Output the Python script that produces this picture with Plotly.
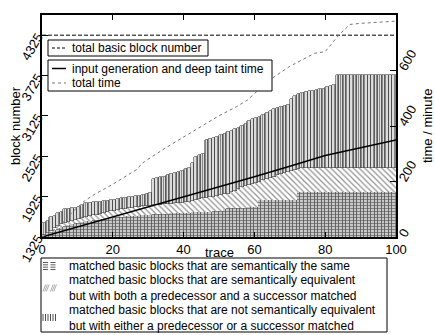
import plotly.graph_objects as go

# ---------------- data ----------------
trace = list(range(1, 101))

# cumulative top of "semantically the same" blocks
same_top = [1345, 1375, 1400, 1430, 1455, 1478, 1495, 1510, 1520, 1530,
            1540, 1550, 1560, 1568, 1577, 1585, 1592, 1598, 1604, 1610,
            1615, 1620, 1626, 1631, 1636, 1640, 1644, 1648, 1652, 1655,
            1658, 1661, 1664, 1667, 1670, 1672, 1675, 1678, 1680, 1683,
            1686, 1689, 1692, 1695, 1698, 1700, 1702, 1704, 1706, 1708,
            1710, 1745, 1750, 1754, 1756, 1758, 1760, 1762, 1764, 1766,
            1768, 1873, 1873, 1873, 1873, 1873, 1873, 1873, 1873, 1873,
            1873, 1873, 1990, 1990, 1990, 1990, 1990, 1990, 1990, 1990,
            1990, 1990, 1990, 1990, 1990, 1990, 1990, 1990, 1990, 1990,
            1990, 1990, 1990, 1990, 1990, 1990, 1990, 1990, 1990, 1990]

# cumulative top of "semantically equivalent, both pred & succ matched"
equiv_top = [1350, 1385, 1420, 1455, 1490, 1520, 1535, 1550, 1565, 1580,
             1593, 1606, 1619, 1632, 1645, 1658, 1670, 1682, 1694, 1706,
             1716, 1726, 1736, 1746, 1756, 1762, 1768, 1774, 1780, 1786,
             1791, 1796, 1801, 1806, 1811, 1816, 1821, 1826, 1831, 1836,
             1841, 1847, 1860, 1873, 1886, 1898, 1908, 1916, 1924, 1935,
             1945, 1958, 1970, 1990, 2010, 2035, 2062, 2090, 2105, 2120,
             2135, 2150, 2165, 2180, 2200, 2220, 2240, 2257, 2274, 2290,
             2304, 2318, 2332, 2345, 2350, 2350, 2350, 2350, 2350, 2350,
             2350, 2350, 2350, 2350, 2350, 2350, 2350, 2350, 2350, 2350,
             2350, 2350, 2350, 2350, 2350, 2350, 2350, 2350, 2350, 2350]

# cumulative top of "not equivalent, pred or succ matched" (= all matched)
total_top = [1537, 1560, 1625, 1640, 1680, 1700, 1740, 1745, 1750, 1760,
             1775, 1800, 1828, 1835, 1840, 1847, 1852, 1858, 1864, 1870,
             1880, 1890, 1898, 1905, 1915, 1922, 1930, 1940, 1950, 1962,
             1972, 2180, 2195, 2210, 2220, 2240, 2258, 2275, 2291, 2310,
             2330, 2350, 2430, 2513, 2540, 2560, 2760, 2775, 2790, 2810,
             2835, 2860, 2885, 2908, 2930, 2950, 2975, 3000, 3050, 3086,
             3100, 3110, 3140, 3175, 3205, 3234, 3250, 3262, 3272, 3280,
             3382, 3420, 3452, 3465, 3478, 3490, 3502, 3514, 3522, 3530,
             3548, 3566, 3585, 3737, 3737, 3737, 3737, 3737, 3737, 3737,
             3737, 3737, 3737, 3737, 3737, 3737, 3737, 3737, 3737, 3737]

total_basic_blocks = 4325

taint_trace = [0, 10, 20, 30, 40, 50, 60, 70, 80, 90, 100]
taint_time = [0, 36, 71, 107, 143, 180, 217, 255, 294, 322, 350]

total_trace = [0, 3, 6, 9, 12, 15, 20, 27, 28, 29, 35, 40, 48, 50, 55, 58,
               62, 65, 70, 75, 77, 80, 82, 84, 87, 90, 100]
total_time = [0, 20, 55, 95, 130, 155, 190, 245, 262, 272, 322, 360, 421,
              437, 470, 493, 540, 572, 615, 650, 662, 668, 700, 730, 766,
              770, 778]

left_ticks = [1325, 1925, 2525, 3125, 3725, 4325]
right_ticks = [0, 200, 400, 600, 800]

name_total_blocks = "total basic block number"
name_taint = "input generation and deep taint time"
name_total_time = "total time"
names_blocks = [
    ["matched basic blocks that are semantically the same"],
    ["matched basic blocks that are semantically equivalent",
     "but with both a predecessor and a successor matched"],
    ["matched basic blocks that are not semantically equivalent",
     "but with either a predecessor or a successor matched"],
]

# ---------------- figure ----------------
FONT = "Liberation Sans, Arial, Helvetica, sans-serif"
W, H = 435, 335
ML, MR, MT, MB = 42, 39, 15, 98
PW, PH = W - ML - MR, H - MT - MB


def px(x):
    return (x - ML) / PW


def py(y):
    return (H - MB - y) / PH


same_val = same_top
equiv_val = [e - s for e, s in zip(equiv_top, same_top)]
notequiv_val = [t - e for t, e in zip(total_top, equiv_top)]

fig = go.Figure()

fig.add_trace(go.Bar(
    x=trace, y=same_val, width=1, offset=-1, showlegend=False,
    name=names_blocks[0][0],
    marker=dict(color="white", line=dict(color="#555555", width=0.6),
                pattern=dict(shape="-", fgcolor="#333333", bgcolor="#d0d0d0",
                             size=3, solidity=0.4))))
fig.add_trace(go.Bar(
    x=trace, y=equiv_val, width=1, offset=-1, showlegend=False,
    name=" ".join(names_blocks[1]),
    marker=dict(color="white", line=dict(width=0),
                pattern=dict(shape="\\", fgcolor="#222222", bgcolor="white",
                             size=4, solidity=0.3))))
fig.add_trace(go.Bar(
    x=trace, y=notequiv_val, width=1, offset=-1, showlegend=False,
    name=" ".join(names_blocks[2]),
    marker=dict(color="white", line=dict(color="#444444", width=0.6),
                pattern=dict(shape="|", fgcolor="#222222", bgcolor="#eeeeee",
                             size=3, solidity=0.45))))

fig.add_trace(go.Scatter(
    x=[0, trace[-1]], y=[total_basic_blocks, total_basic_blocks],
    mode="lines", name=name_total_blocks, showlegend=False,
    line=dict(color="black", width=1, dash="4px,2px")))
fig.add_trace(go.Scatter(
    x=taint_trace, y=taint_time, mode="lines", name=name_taint,
    showlegend=False, line=dict(color="black", width=1.5), yaxis="y2"))
fig.add_trace(go.Scatter(
    x=total_trace, y=total_time, mode="lines", name=name_total_time,
    showlegend=False, line=dict(color="#777777", width=1, dash="dot"),
    yaxis="y2"))

# ---------------- hand-built legends ----------------
shapes = []
annotations = []


def box(x0, y0, x1, y1):
    shapes.append(dict(type="rect", xref="paper", yref="paper",
                       x0=px(x0), x1=px(x1), y0=py(y0), y1=py(y1),
                       line=dict(color="black", width=1),
                       fillcolor="white", layer="above"))


def sample_line(x0, x1, y, color, width, dash):
    shapes.append(dict(type="line", xref="paper", yref="paper",
                       x0=px(x0), x1=px(x1), y0=py(y), y1=py(y),
                       line=dict(color=color, width=width, dash=dash),
                       layer="above"))


def label(text, x, y):
    annotations.append(dict(text=text, x=px(x), y=py(y), xref="paper",
                            yref="paper", showarrow=False, xanchor="left",
                            yanchor="middle", align="left",
                            font=dict(size=12)))


def swatch(x0, x1, y0, y1, kind, color):
    segs = []
    if kind == "h":
        n = 4
        for i in range(n):
            yy = y0 + (y1 - y0) * i / (n - 1)
            segs.append(f"M{px(x0)},{py(yy)} L{px(x1)},{py(yy)}")
    elif kind == "v":
        n = 3
        for i in range(n):
            xx = x0 + (x1 - x0) * i / (n - 1)
            segs.append(f"M{px(xx)},{py(y0)} L{px(xx)},{py(y1)}")
    else:
        n = 3
        step = (x1 - x0) / n
        for i in range(n):
            xa = x0 + i * step
            segs.append(f"M{px(xa)},{py(y1)} L{px(xa + step * 1.6)},{py(y0)}")
    shapes.append(dict(type="path", xref="paper", yref="paper",
                       path=" ".join(segs),
                       line=dict(color=color, width=0.8), layer="above"))


# legend 1
box(48, 40, 208, 56)
sample_line(52, 66, 48, "black", 1, "3px,2px")
label(name_total_blocks, 70, 48)

# legend 2
box(48, 60, 272, 91)
sample_line(52, 66, 68.5, "black", 1.5, "solid")
label(name_taint, 70, 68.5)
sample_line(52, 66, 83, "#777777", 1, "dot")
label(name_total_time, 70, 83)

# legend 3
box(41, 258, 387, 332)
row_centers = [266.0, 288.0, 317.5]
swatch_kind = ["h", "d", "v"]
swatch_color = ["#333333", "#999999", "#222222"]
for lines, yc, kind, col in zip(names_blocks, row_centers, swatch_kind,
                                swatch_color):
    label("<br>".join(lines), 67, yc)
    swatch(43, 48, yc - 3.5, yc + 3.5, kind, col)
    swatch(50.5, 55.5, yc - 3.5, yc + 3.5, kind, col)

# axis titles
annotations += [
    dict(text="trace", x=0.5, y=py(253), xref="paper", yref="paper",
         showarrow=False, font=dict(size=13), xanchor="center",
         yanchor="middle"),
    dict(text="block number", x=px(15), y=0.5, xref="paper",
         yref="paper", showarrow=False, textangle=-90,
         font=dict(size=13), xanchor="center", yanchor="middle"),
    dict(text="time / minute", x=px(427), y=0.5, xref="paper",
         yref="paper", showarrow=False, textangle=-90,
         font=dict(size=13), xanchor="center", yanchor="middle"),
]

fig.update_layout(
    width=W, height=H,
    margin=dict(l=ML, r=MR, t=MT, b=MB),
    paper_bgcolor="white", plot_bgcolor="white",
    barmode="stack", bargap=0, showlegend=False,
    font=dict(family=FONT, size=13, color="black"),
    xaxis=dict(range=[0, 100], tickvals=[0, 20, 40, 60, 80, 100],
               showline=True, linecolor="black", linewidth=1.5,
               mirror="ticks", ticks="inside", ticklen=5,
               tickcolor="black", showgrid=False, zeroline=False,
               tickfont=dict(size=13)),
    yaxis=dict(range=[1325, 4625], tickvals=left_ticks,
               showline=True, linecolor="black", linewidth=1.5,
               ticks="inside", ticklen=6, tickcolor="black",
               showgrid=False, zeroline=False, tickangle=-60,
               tickfont=dict(size=13)),
    yaxis2=dict(range=[0, 800], tickvals=right_ticks, overlaying="y",
                side="right", showline=True, linecolor="black",
                linewidth=1.5, ticks="inside", ticklen=6,
                tickcolor="black", showgrid=False, zeroline=False,
                tickangle=-60, tickfont=dict(size=13)),
    shapes=shapes,
    annotations=annotations,
)

fig.write_html("out.html")
